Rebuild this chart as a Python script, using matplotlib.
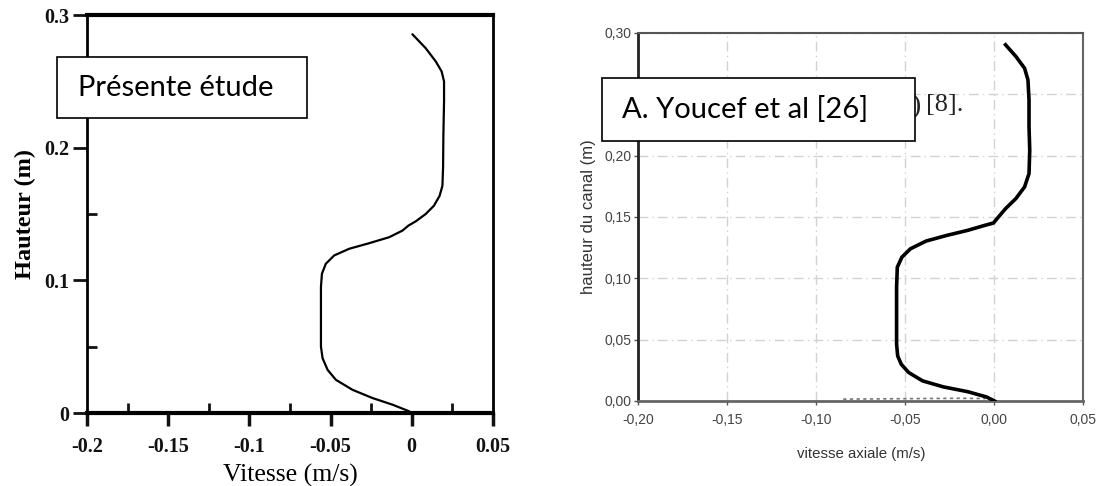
import matplotlib.pyplot as plt
from matplotlib.patches import Rectangle
from matplotlib.ticker import FixedLocator, FuncFormatter

# profil de vitesse - présente étude
vit_etude = [-0.0016, -0.0119, -0.0242, -0.0365, -0.0467, -0.0518, -0.0549, -0.0559,
             -0.0559, -0.0559, -0.0553, -0.0529, -0.0477, -0.0385, -0.0262, -0.0139,
             -0.0057, -0.0020, 0.0025, 0.0086, 0.0137, 0.0172, 0.0189, 0.0193,
             0.0195, 0.0199, 0.0199, 0.0184, 0.0148, 0.0086, 0.0004]
h_etude = [0.0013, 0.0063, 0.0113, 0.0175, 0.0250, 0.0325, 0.0413, 0.0500,
           0.0725, 0.0950, 0.1050, 0.1125, 0.1188, 0.1238, 0.1280, 0.1325,
           0.1375, 0.1413, 0.1445, 0.1500, 0.1563, 0.1638, 0.1713, 0.1850,
           0.2100, 0.2350, 0.2500, 0.2575, 0.2650, 0.2750, 0.2855]

# profil de vitesse - Youcef et al
vit_youcef = [0.0, -0.0045, -0.0151, -0.0287, -0.0404, -0.0482, -0.0524, -0.0544,
              -0.0550, -0.0550, -0.0550, -0.0546, -0.0520, -0.0472, -0.0384, -0.0268,
              -0.0151, -0.0054, -0.0006, 0.0014, 0.0062, 0.0120, 0.0169, 0.0194,
              0.0198, 0.0194, 0.0194, 0.0188, 0.0169, 0.0120, 0.0062]
h_youcef = [0.0, 0.0033, 0.0076, 0.0115, 0.0164, 0.0232, 0.0300, 0.0368,
            0.0464, 0.0682, 0.0927, 0.1091, 0.1173, 0.1241, 0.1304, 0.1350,
            0.1391, 0.1432, 0.1451, 0.1486, 0.1568, 0.1650, 0.1745, 0.1854,
            0.2045, 0.2236, 0.2454, 0.2618, 0.2713, 0.2809, 0.2904]

# trace parasite le long de l'axe (scan)
trace_x = [-0.085, -0.060, -0.040, -0.020, -0.005]
trace_y = [0.0015, 0.0018, 0.0020, 0.0022, 0.0020]

xticks_g = [-0.2, -0.15, -0.1, -0.05, 0, 0.05]
xticklabels_g = ['-0.2', '-0.15', '-0.1', '-0.05', '0', '0.05']
yticks_g = [0, 0.1, 0.2, 0.3]
yticklabels_g = ['0', '0.1', '0.2', '0.3']

xticks_d = [-0.20, -0.15, -0.10, -0.05, 0.00, 0.05]
yticks_d = [0.00, 0.05, 0.10, 0.15, 0.20, 0.25, 0.30]

serif = 'Liberation Serif'
sans = 'Liberation Sans'

fig = plt.figure(figsize=(11.02, 4.86), dpi=100)

# ---------- panneau gauche ----------
ax1 = fig.add_axes([0.0789, 0.1502, 0.3684, 0.8189])
ax1.plot(vit_etude, h_etude, color='black', lw=1.6, solid_capstyle='round')
ax1.set_xlim(-0.2, 0.05)
ax1.set_ylim(0, 0.3)
ax1.set_xticks(xticks_g)
ax1.set_xticklabels(xticklabels_g, fontfamily=serif, fontweight='bold', fontsize=14.5)
ax1.set_yticks(yticks_g)
ax1.set_yticklabels(yticklabels_g, fontfamily=serif, fontweight='bold', fontsize=14.5)
ax1.xaxis.set_minor_locator(FixedLocator([-0.175, -0.125, -0.075, -0.025, 0.025]))
ax1.yaxis.set_minor_locator(FixedLocator([0.05, 0.15, 0.25]))
ax1.tick_params(axis='x', which='major', direction='out', length=9, width=2.5, pad=8, colors='#111')
ax1.tick_params(axis='y', which='major', direction='out', length=10, width=2, pad=3, colors='#111')
ax1.tick_params(axis='both', which='minor', direction='in', length=7, width=2, colors='#111')
ax1.spines['bottom'].set_linewidth(3)
ax1.spines['top'].set_linewidth(3)
ax1.spines['left'].set_linewidth(2)
ax1.spines['right'].set_linewidth(2)
ax1.set_xlabel('Vitesse (m/s)', fontfamily=serif, fontsize=18.5, labelpad=5)
ax1.set_ylabel('Hauteur (m)', fontfamily=serif, fontweight='bold', fontsize=17.5, labelpad=5.5)

# encadré de légende
ax1.add_patch(Rectangle((-0.074, 0.741), 0.616, 0.1535, transform=ax1.transAxes,
                        fc='white', ec='black', lw=1.2, clip_on=False, zorder=5))
ax1.text(-0.022, 0.816, 'Présente étude', transform=ax1.transAxes, fontfamily='Lato',
         fontsize=21, va='center', ha='left', zorder=6)

# ---------- panneau droit ----------
ax2 = fig.add_axes([0.5794, 0.1749, 0.4038, 0.7572])
ax2.set_xlim(-0.2, 0.05)
ax2.set_ylim(0, 0.3)
ax2.set_xticks(xticks_d)
ax2.set_yticks(yticks_d)
# l'étiquette 0,25 est cachée par l'encadré
fmt = FuncFormatter(lambda v, p: '' if abs(v - 0.25) < 1e-9 else f'{v:.2f}'.replace('.', ','))
ax2.xaxis.set_major_formatter(fmt)
ax2.yaxis.set_major_formatter(fmt)
for lab in ax2.get_xticklabels() + ax2.get_yticklabels():
    lab.set_fontfamily(sans)
    lab.set_fontsize(10)
ax2.tick_params(axis='both', length=3, width=1, colors='#555', labelcolor='#444')
ax2.tick_params(axis='x', pad=6)
ax2.tick_params(axis='y', pad=2)
ax2.grid(True, color='#d2d2d2', lw=1, ls=(0, (7, 3, 1, 3)))
ax2.plot(trace_x, trace_y, color='#777', lw=1.2, ls=(0, (2, 2)), zorder=2)
ax2.plot(vit_youcef, h_youcef, color='black', lw=2.6, zorder=3)
ax2.spines['left'].set_color('#222')
ax2.spines['left'].set_linewidth(2)
ax2.spines['bottom'].set_color('#666')
ax2.spines['bottom'].set_linewidth(2)
ax2.spines['top'].set_color('#555')
ax2.spines['top'].set_linewidth(1.5)
ax2.spines['right'].set_color('#666')
ax2.spines['right'].set_linewidth(1.5)
ax2.set_xlabel('vitesse axiale (m/s)', fontfamily=sans, fontsize=10.8,
               color='#333', labelpad=14)
ax2.set_ylabel('hauteur du canal (m)', fontfamily=sans, fontsize=12,
               color='#333', labelpad=6)

# fragment de légende d'origine, en partie masqué par l'encadré
ax2.text(0.612, 0.800, ')', transform=ax2.transAxes, fontfamily=serif,
         fontsize=20, va='center', ha='left', color='#222', zorder=4)
ax2.text(0.645, 0.804, '[8].', transform=ax2.transAxes, fontfamily=serif,
         fontsize=19, va='center', ha='left', color='#222', zorder=4)
ax2.add_patch(Rectangle((-0.082, 0.7065), 0.703, 0.1712, transform=ax2.transAxes,
                        fc='white', ec='black', lw=1.2, clip_on=False, zorder=5))
ax2.text(-0.037, 0.791, 'A. Youcef et al [26]', transform=ax2.transAxes, fontfamily='Lato',
         fontsize=21, va='center', ha='left', zorder=6)

fig.savefig('out.png', dpi=100)
